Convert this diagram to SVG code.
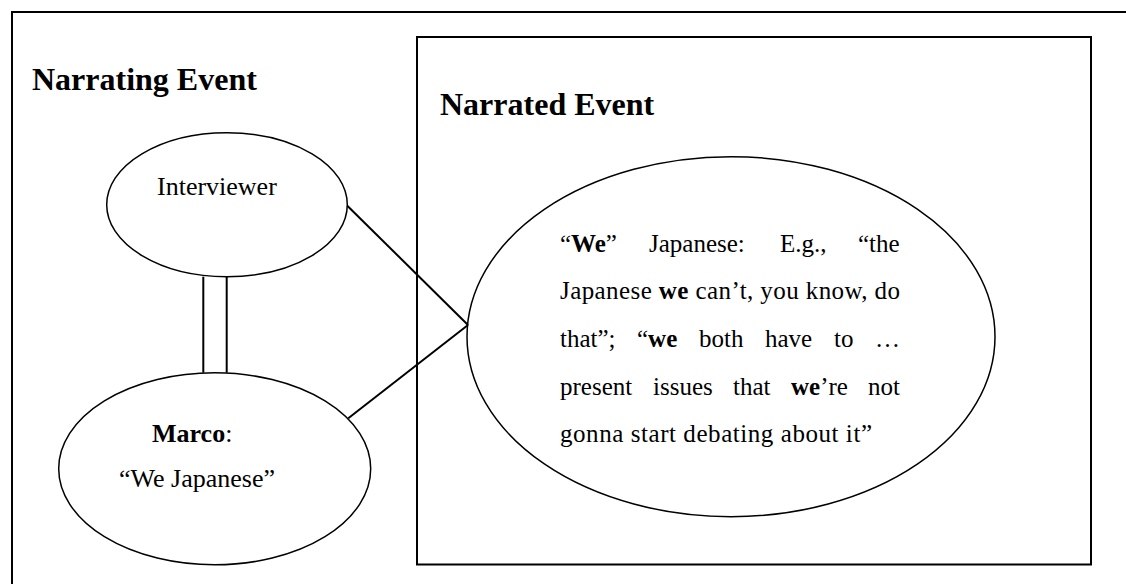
<svg xmlns="http://www.w3.org/2000/svg" width="1126" height="584" viewBox="0 0 1126 584">
<style>
  .t { font-family: "Liberation Serif", "Times New Roman", serif; fill: #000; }
  .title { font-size: 32px; font-weight: bold; }
  .lbl { font-size: 26px; }
  .body { font-size: 25px; }
  .b { font-weight: bold; }
  .shape { fill: none; stroke: #000; }
  .conn { stroke: #000; stroke-width: 2; fill: none; }
</style>
<rect width="1126" height="584" fill="#fff"/>
<g id="narrating-event">
  <rect class="shape" x="12" y="12" width="1140" height="600" stroke-width="2"/>
  <text class="t title" x="32" y="90">Narrating Event</text>
</g>
<g id="narrated-event">
  <rect class="shape" x="417" y="37" width="674" height="527.5" stroke-width="2"/>
  <text class="t title" x="440" y="114.5">Narrated Event</text>
</g>
<g id="interviewer">
  <ellipse class="shape" cx="227" cy="204.7" rx="120.3" ry="72" stroke-width="1.5"/>
  <text class="t lbl" x="157" y="195">Interviewer</text>
</g>
<g id="marco">
  <ellipse class="shape" cx="214.7" cy="468.8" rx="156" ry="96" stroke-width="1.5"/>
  <text class="t lbl" x="152" y="441.7"><tspan class="b">Marco</tspan>:</text>
  <text class="t lbl" x="119" y="487">“We Japanese”</text>
</g>
<g id="we-japanese">
  <ellipse class="shape" cx="731" cy="336.7" rx="264" ry="180" stroke-width="1.5"/>
  <text class="t body" y="251.5"><tspan x="560">“</tspan><tspan class="b">We</tspan><tspan>”</tspan><tspan x="649">Japanese:</tspan><tspan x="780">E.g.,</tspan><tspan x="858">“the</tspan></text>
  <text class="t body" x="560" y="299" textLength="340" lengthAdjust="spacing">Japanese <tspan class="b">we</tspan> can’t, you know, do</text>
  <text class="t body" y="347"><tspan x="560">that”;</tspan><tspan x="637">“</tspan><tspan class="b">we</tspan><tspan x="699">both</tspan><tspan x="765">have</tspan><tspan x="834">to</tspan><tspan x="875">…</tspan></text>
  <text class="t body" y="394.5"><tspan x="560">present</tspan><tspan x="653">issues</tspan><tspan x="733">that</tspan><tspan x="791" class="b">we</tspan><tspan>’re</tspan><tspan x="868">not</tspan></text>
  <text class="t body" x="560" y="442" textLength="312" lengthAdjust="spacing">gonna start debating about it”</text>
</g>
<g id="connectors">
  <line class="conn" x1="203.3" y1="276.7" x2="203.3" y2="372.7"/>
  <line class="conn" x1="226.7" y1="276.7" x2="226.7" y2="372.7"/>
  <line class="conn" x1="347.3" y1="205.7" x2="468" y2="325"/>
  <line class="conn" x1="348.3" y1="418.3" x2="468" y2="325"/>
</g>
</svg>
